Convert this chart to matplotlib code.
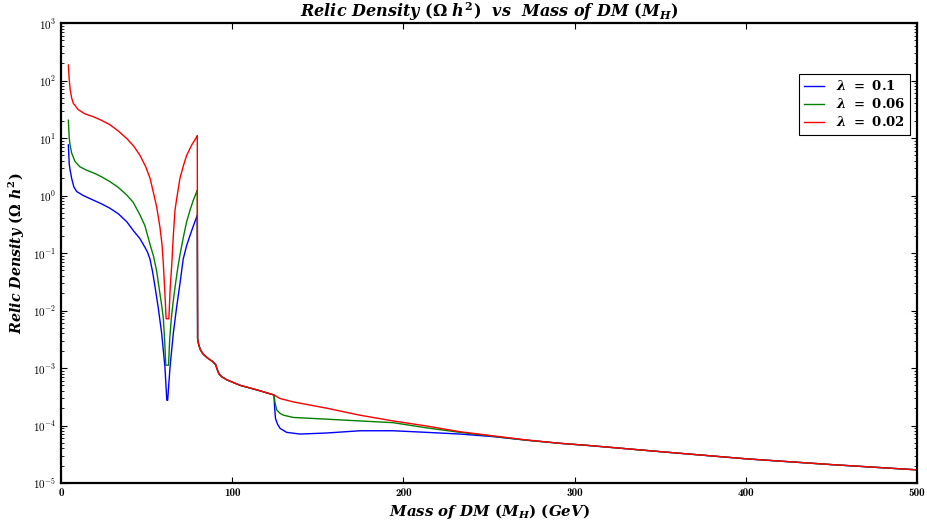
import numpy as np
import matplotlib
matplotlib.use("Agg")
import matplotlib.pyplot as plt
from matplotlib.ticker import FuncFormatter, LogLocator, NullFormatter, NullLocator

# relic density, per lambda, below the W threshold (M_H < 80 GeV)
mass_low_01 = [4.3, 4.8, 5.3, 6.2, 7.5, 9.2, 13, 18.9, 23.5, 28.6, 33.5, 38.4, 42.5, 46.1, 49,
               50.5, 52, 53.5, 55, 56.8, 58.8, 60.7, 61.8, 62.3, 63.7, 65.6, 67.5, 69.5, 71.4,
               73.4, 75.4, 77.4, 79.3, 79.6]
relic_low_01 = [7.6, 3.55, 2.8, 2.0, 1.41, 1.17, 1.0, 0.83, 0.72, 0.60, 0.48, 0.35, 0.24, 0.178,
                0.126, 0.104, 0.078, 0.047, 0.025, 0.0112, 0.004, 0.00105, 0.000275, 0.000275,
                0.00105, 0.004, 0.0112, 0.0295, 0.079, 0.135, 0.204, 0.30, 0.43, 0.45]

mass_low_006 = [4.3, 4.8, 5.3, 6.2, 8.2, 11, 15, 20, 24, 28.6, 33.5, 38.4, 42.2, 46.1, 49, 52,
                54, 55.9, 57.5, 59, 59.8, 60.5, 61.2, 62.8, 63.5, 64.4, 65.3, 66.8, 68, 69.5,
                71.5, 73.4, 75.4, 77.3, 79.3, 79.6]
relic_low_006 = [20.4, 10, 7.6, 5.5, 3.9, 3.16, 2.75, 2.4, 2.09, 1.74, 1.38, 1.02, 0.76, 0.46,
                 0.30, 0.141, 0.089, 0.048, 0.0224, 0.0112, 0.0071, 0.0032, 0.00112, 0.00112,
                 0.0032, 0.0071, 0.0126, 0.028, 0.05, 0.093, 0.19, 0.35, 0.56, 0.83, 1.17, 1.23]

mass_low_002 = [4.3, 4.8, 5.3, 6.2, 7.2, 10.1, 14, 18.9, 23.5, 28.6, 33.5, 38.4, 42.5, 46.1,
                49.5, 52, 54, 55.9, 57.8, 59.0, 59.8, 60.6, 61.4, 63.0, 63.8, 64.7, 65.6, 66.6,
                67.6, 69.5, 71.5, 73.4, 76.4, 79.3, 79.6]
relic_low_002 = [186, 105, 72, 50, 40, 31, 26.3, 23.4, 20.4, 17.0, 13.2, 9.8, 7.2, 5.0, 3.16,
                 2.0, 1.12, 0.63, 0.28, 0.141, 0.063, 0.0224, 0.0072, 0.0072, 0.025, 0.063, 0.2,
                 0.56, 0.89, 2.0, 3.3, 5.0, 7.6, 10.5, 11.0]

# shared part between the W and the Higgs thresholds
mass_mid = [79.8, 80.5, 81.5, 83, 85.5, 88.5, 90.3, 91.2, 92.3, 94, 97, 104.6, 114.3, 124.4]
relic_mid = [3.2e-3, 2.5e-3, 2.05e-3, 1.75e-3, 1.5e-3, 1.3e-3, 1.15e-3, 9.5e-4, 7.9e-4,
             7.0e-4, 6.2e-4, 5.0e-4, 4.17e-4, 3.4e-4]

# above 125 GeV
mass_high_01 = [124.8, 125.3, 126.5, 128, 131.8, 139.6, 155, 174.6, 194, 213.6, 233, 252.5, 272, 291.5]
relic_high_01 = [2.0e-4, 1.32e-4, 1.05e-4, 8.9e-5, 7.6e-5, 7.1e-5, 7.4e-5, 8.1e-5, 8.1e-5,
                 7.6e-5, 7.1e-5, 6.4e-5, 5.55e-5, 4.9e-5]

mass_high_006 = [125, 126, 128, 130, 135.7, 155, 174.6, 194, 213.6, 233, 252.5, 272, 291.5]
relic_high_006 = [2.5e-4, 1.86e-4, 1.62e-4, 1.51e-4, 1.38e-4, 1.29e-4, 1.20e-4, 1.12e-4,
                  9.1e-5, 7.6e-5, 6.5e-5, 5.55e-5, 4.9e-5]

mass_high_002 = [127.9, 135.7, 155.2, 174.6, 194, 213.6, 233, 252.5, 272, 291.5]
relic_high_002 = [2.95e-4, 2.57e-4, 2.0e-4, 1.51e-4, 1.20e-4, 9.8e-5, 7.8e-5, 6.6e-5, 5.6e-5, 4.9e-5]

# common tail
mass_tail = [309, 352, 400.5, 450, 499]
relic_tail = [4.47e-5, 3.47e-5, 2.63e-5, 2.09e-5, 1.70e-5]

labels = [r"$\lambda\ =\ 0.1$", r"$\lambda\ =\ 0.06$", r"$\lambda\ =\ 0.02$"]
colors = ["b", "g", "r"]
ytick_exponents = [-5, -4, -3, -2, -1, 0, 1, 2, 3]

plt.rcParams["font.family"] = "cmb10"
plt.rcParams["mathtext.fontset"] = "cm"
# bold italic serif for title, axis labels and legend
plt.rcParams["mathtext.rm"] = "DejaVu Serif:bold"
plt.rcParams["mathtext.it"] = "DejaVu Serif:italic:bold"
plt.rcParams["mathtext.bf"] = "DejaVu Serif:bold"

fig = plt.figure(figsize=(9.28, 5.25), dpi=100)
ax = fig.add_axes([61 / 928, 42 / 525, 856 / 928, 460 / 525])

series = [
    (mass_low_01, relic_low_01, mass_high_01, relic_high_01),
    (mass_low_006, relic_low_006, mass_high_006, relic_high_006),
    (mass_low_002, relic_low_002, mass_high_002, relic_high_002),
]
for (ml, rl, mh, rh), lab, c in zip(series, labels, colors):
    m = np.concatenate([ml, mass_mid, mh, mass_tail])
    r = np.concatenate([rl, relic_mid, rh, relic_tail])
    ax.plot(m, r, color=c, lw=1.0, label=lab)

ax.set_yscale("log")
ax.set_xlim(0, 500)
ax.set_ylim(1e-5, 1e3)
ax.set_yticks([10.0 ** e for e in ytick_exponents],
              [r"$\mathbf{10^{%d}}$" % e for e in ytick_exponents])
ax.yaxis.set_minor_locator(LogLocator(base=10, subs=np.arange(2, 10)))
ax.yaxis.set_minor_formatter(NullFormatter())
ax.xaxis.set_minor_locator(NullLocator())
ax.tick_params(which="both", direction="in", top=True, right=True, labelsize=8)
ax.tick_params(which="major", length=4, width=0.8)
ax.tick_params(which="minor", length=2, width=0.6)
for s in ax.spines.values():
    s.set_linewidth(1.6)

ax.set_title(r"$Relic\ Density\ (\Omega\ h^2)\ \ vs\ \ Mass\ of\ DM\ (M_H)$", fontsize=11.5,
             pad=1, math_fontfamily="custom")
ax.set_xlabel(r"$Mass\ of\ DM\ (M_H)\ (GeV)$", fontsize=10.8, labelpad=3, math_fontfamily="custom")
ax.set_ylabel(r"$Relic\ Density\ (\Omega\ h^2)$", fontsize=10.3, labelpad=4, math_fontfamily="custom")

leg = ax.legend(loc="upper right", bbox_to_anchor=(1.0, 0.903), fontsize=9.5,
                fancybox=False, edgecolor="black", framealpha=1, handlelength=1.5,
                handletextpad=0.9, borderpad=0.4, labelspacing=0.3)
leg.get_frame().set_linewidth(0.8)
for t in leg.get_texts():
    t.set_math_fontfamily("custom")

fig.savefig("out.png", dpi=100, facecolor="white")
